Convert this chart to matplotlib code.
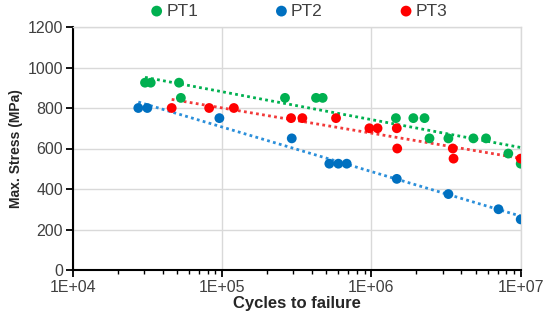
import numpy as np
import matplotlib
matplotlib.use("Agg")
import matplotlib.pyplot as plt
from matplotlib.ticker import LogLocator, FixedLocator, NullFormatter

plt.rcParams['font.family'] = ['Liberation Sans', 'DejaVu Sans']

# Data
pt1_cycles = [3.05e4, 3.33e4, 5.15e4, 5.3e4, 2.64e5, 4.26e5, 4.72e5, 1.46e6, 1.91e6, 2.27e6,
              2.45e6, 3.28e6, 4.82e6, 5.86e6, 8.26e6, 1.0e7]
pt1_stress = [925, 925, 925, 850, 850, 850, 850, 750, 750, 750,
              650, 650, 650, 650, 575, 525]

pt2_cycles = [2.75e4, 3.16e4, 9.6e4, 2.93e5, 5.23e5, 6.01e5, 6.84e5, 1.48e6, 3.28e6, 7.1e6, 1.0e7]
pt2_stress = [800, 800, 750, 650, 525, 525, 525, 450, 375, 300, 250]

pt3_cycles = [4.6e4, 8.2e4, 1.2e5, 2.9e5, 3.45e5, 5.8e5, 9.7e5, 1.1e6, 1.48e6, 1.49e6,
              3.51e6, 3.55e6, 1.0e7]
pt3_stress = [800, 800, 800, 750, 750, 750, 700, 700, 700, 600,
              600, 550, 550]

series_names = ['PT1', 'PT2', 'PT3']
marker_colors = ['#00B050', '#0070C0', '#FF0000']
trend_colors = ['#00B050', '#2B8FDA', '#F23A3A']

x_tick_values = [1e4, 1e5, 1e6, 1e7]
x_tick_labels = ['1E+04', '1E+05', '1E+06', '1E+07']
y_tick_values = [0, 200, 400, 600, 800, 1000, 1200]

fig = plt.figure(figsize=(5.5, 3.26), dpi=100)
ax = fig.add_axes([72.7 / 550, 56 / 326, 448 / 550, 243 / 326])

series = [(pt1_cycles, pt1_stress), (pt2_cycles, pt2_stress), (pt3_cycles, pt3_stress)]

# Logarithmic trendlines (stress = a*ln(N) + b), spanning each series' range
for (cx, sy), tc in zip(series, trend_colors):
    lx = np.log10(cx)
    b, a = np.polyfit(lx, np.asarray(sy, float), 1)
    xs = np.logspace(lx.min(), lx.max(), 100)
    ys = a + b * np.log10(xs)
    ax.plot(xs, ys, linestyle=(0, (1, 1.2)), color=tc, linewidth=2.0, zorder=2)

handles = []
for (cx, sy), mc, name in zip(series, marker_colors, series_names):
    h = ax.scatter(cx, sy, s=50, color=mc, edgecolors='none', zorder=3, label=name)
    handles.append(h)

ax.set_xscale('log')
ax.set_xlim(1e4, 1e7)
ax.set_ylim(0, 1200)

ax.xaxis.set_major_locator(FixedLocator(x_tick_values))
ax.set_xticklabels(x_tick_labels)
ax.xaxis.set_minor_locator(LogLocator(base=10, subs=np.arange(2, 10)))
ax.xaxis.set_minor_formatter(NullFormatter())
ax.set_yticks(y_tick_values)

ax.grid(True, which='major', color='#D9D9D9', linewidth=1.0, zorder=0)
ax.set_axisbelow(True)

for s in ['top', 'right']:
    ax.spines[s].set_color('#D9D9D9')
    ax.spines[s].set_linewidth(1.0)
for s in ['left', 'bottom']:
    ax.spines[s].set_color('black')
    ax.spines[s].set_linewidth(1.5)

ax.tick_params(axis='both', which='major', direction='out', length=5, width=1.3,
               labelsize=11.5, colors='black', labelcolor='#404040', pad=2)
ax.tick_params(axis='x', which='minor', direction='out', length=3, width=1.0, color='black')
ax.tick_params(axis='x', which='major', pad=2)

ax.set_xlabel('Cycles to failure', fontsize=12, fontweight='bold', color='#262626', labelpad=1)
ax.set_ylabel('Max. Stress (MPa)', fontsize=10, fontweight='bold', color='#262626', labelpad=3)

leg = fig.legend(handles=handles, labels=series_names, loc='center', ncol=3,
                 bbox_to_anchor=(0.542, 0.966), frameon=False, fontsize=12.5,
                 handletextpad=0.1, columnspacing=4.35, markerscale=1.1,
                 scatterpoints=1, handlelength=0.9)
for t in leg.get_texts():
    t.set_color('#404040')

fig.savefig('out.png', dpi=100)
